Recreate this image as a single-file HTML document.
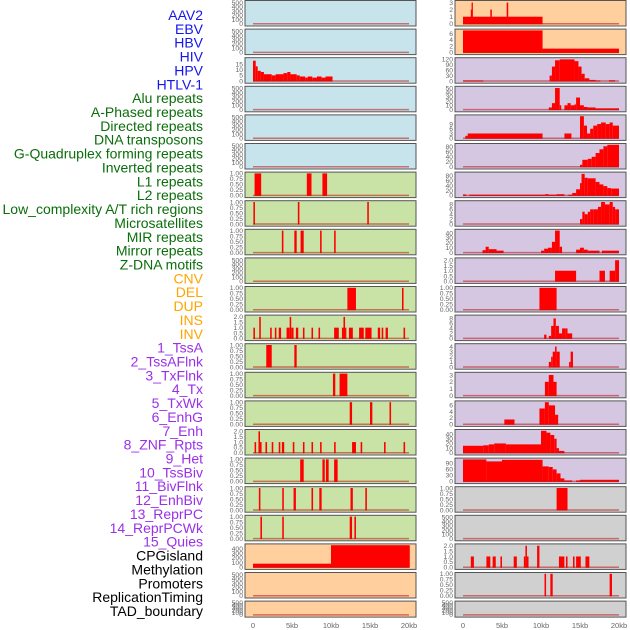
<!DOCTYPE html>
<html><head><meta charset="utf-8"><style>
body{margin:0;background:#fff;width:630px;height:630px;overflow:hidden}
svg{display:block}
</style></head><body>
<svg id="chart" width="630" height="630" xmlns="http://www.w3.org/2000/svg" font-family="Liberation Sans, sans-serif"></svg>
<script>
const labels=["AAV2","EBV","HBV","HIV","HPV","HTLV-1","Alu repeats","A-Phased repeats","Directed repeats","DNA transposons","G-Quadruplex forming repeats","Inverted repeats","L1 repeats","L2 repeats","Low_complexity A/T rich regions","Microsatellites","MIR repeats","Mirror repeats","Z-DNA motifs","CNV","DEL","DUP","INS","INV","1_TssA","2_TssAFlnk","3_TxFlnk","4_Tx","5_TxWk","6_EnhG","7_Enh","8_ZNF_Rpts","9_Het","10_TssBiv","11_BivFlnk","12_EnhBiv","13_ReprPC","14_ReprPCWk","15_Quies","CPGisland","Methylation","Promoters","ReplicationTiming","TAD_boundary"];
const labelGroups=[6,13,5,15,5];
const groupColors=["#1515ee","#0a6e0a","#ffa500","#9a30e8","#000"];
const xTicks=[0,5,10,15,20];
const xTickLabels=["0","5kb","10kb","15kb","20kb"];
const T500=[0,100,200,300,400,500];
const T1=[0,0.25,0.5,0.75,1];
const T2=[0,0.5,1,1.5,2];
// left column series [startKb,endKb,value]
const L3=[[0,0.35,18],[0.35,0.6,13],[0.6,1,9],[1,1.4,8],[1.4,2.4,6],[2.4,2.9,5],[2.9,3.4,6],[3.4,3.9,6],[3.9,4.4,7],[4.4,4.8,8],[4.8,5.6,6],[5.6,6.0,5],[6.0,6.7,4],[6.7,7.0,3],[7.0,7.6,4],[7.6,8.2,3],[8.2,8.8,4],[8.8,9.3,3],[9.3,10.2,4]];
const L7=[[0.2,1.05,1],[6.9,7.5,1],[8.9,9.5,1]];
const L8=[[0.05,0.25,1],[5.75,5.95,1],[14.65,14.85,1]];
const L9=[[3.7,3.9,1],[5.3,5.6,1],[6.1,6.5,1],[8.6,8.8,1],[10.4,10.6,1]];
const L11=[[12.1,13.2,1],[19.1,19.3,1]];
const L12=[[0.05,0.25,1],[0.8,1.0,2],[2.2,2.4,1],[2.8,3.0,1],[3.3,3.6,1],[4.3,4.7,1],[4.7,4.9,2],[4.9,5.2,1],[5.5,5.8,1],[6.4,6.6,1],[7.5,7.7,1],[8.4,8.6,1],[10.4,11.0,1],[11.4,11.6,1],[11.6,11.8,2],[11.8,11.9,1],[12.3,12.8,1],[13.6,14.2,1],[14.4,15.2,1],[16.0,16.3,1],[16.5,16.7,1],[17.0,17.3,1],[19.3,19.5,1]];
const L13=[[1.7,2.4,1],[5.3,5.6,1]];
const L14=[[10.25,10.55,1],[11.1,12.1,1]];
const L15=[[12.4,12.7,1],[15.0,15.3,1],[17.5,17.7,1]];
const L16=[[0.2,0.4,1],[0.7,0.9,2],[0.9,1.1,1],[1.6,1.8,1],[2.4,2.6,1],[3.3,3.5,1],[3.7,4.0,1],[5.1,5.3,1],[6.4,6.6,1],[7.5,7.7,1],[8.6,8.8,1],[10.4,10.6,1],[12.7,13.2,1],[13.8,14.0,1],[16.8,17.0,1],[19.3,19.5,1]];
const L17=[[6.05,6.5,1],[8.9,9.2,1],[9.35,9.7,1],[10.4,10.85,1]];
const L18=[[0.75,0.95,1],[3.75,3.95,1],[5.2,5.5,1],[7.5,7.7,1],[8.5,8.8,1],[12.5,12.8,1],[14.4,14.6,1]];
const L19=[[0.95,1.15,1],[3.75,3.95,1],[12.4,12.7,1],[13.0,13.2,1]];
const L20=[[0,10,75],[10,20.1,470]];
// right column series
const R1=[[0,10.2,1],[1.0,1.2,2],[1.1,1.2,3],[3.5,3.7,2],[5.6,5.8,3]];
const R2=[[0,10.2,7],[10.2,20,1.2]];
const R3=[[0,2.6,3],[11.1,11.4,30],[11.4,11.8,80],[11.8,12.4,115],[12.4,14.3,120],[14.3,14.8,110],[14.8,15.2,80],[15.2,15.6,40],[15.6,16.2,15],[16.2,17,6],[17,17.6,3],[18.7,19.5,4]];
const R4=[[11,11.4,5],[11.4,11.8,15],[11.8,12.4,50],[12.4,12.6,10],[13,13.4,10],[13.4,13.8,15],[13.8,14.3,10],[14.3,14.5,12],[14.5,15,28],[15,15.5,10],[15.5,16,6],[16,17,5],[17,20,3]];
const R5=[[0.3,0.6,1.5],[0.6,10.2,3],[13,13.9,3],[15,15.5,14],[15.5,15.9,8],[15.9,16.3,3],[16.3,16.7,6],[16.7,17.2,8],[17.2,17.7,9],[17.7,18.3,10],[18.3,18.8,9],[18.8,19.2,10],[19.2,20,8]];
const R6=[[15,15.3,8],[15.3,16,28],[16,16.5,32],[16.5,17,40],[17,17.5,55],[17.5,18,70],[18,18.5,82],[18.5,20,88]];
const R7=[[0,0.4,4],[0.8,10.5,3],[10.5,11,5],[11,12,3],[12,13,5],[13.5,14,3],[14,14.5,10],[14.5,15,25],[15,15.2,50],[15.2,15.6,88],[15.6,16,72],[16,17,70],[17,17.5,55],[17.5,18,45],[18,18.5,38],[18.5,19,30],[19,20,28]];
const R8=[[15,15.3,2],[15.3,15.6,5],[15.6,16,4],[16,16.3,5],[16.3,16.7,6],[16.7,17.3,6],[17.3,17.7,7],[17.7,18.2,9],[18.2,18.8,8],[18.8,19.2,9],[19.2,19.5,7],[19.5,20,6]];
const R9=[[2.5,2.9,5],[2.9,3.3,12],[3.3,4.3,7],[4.3,5.2,4],[10,10.4,4],[10.4,10.9,8],[10.9,11.4,10],[11.4,11.8,22],[11.8,12.4,45],[12.4,12.7,12],[14.5,15,6],[15,15.5,10],[15.5,16,6],[16,17.5,4],[17.8,20,4]];
const R10=[[11.8,14.5,1],[17.5,18.2,1],[18.8,19.5,1],[19.5,20,2]];
const R11=[[9.8,12,1]];
const R12=[[10.4,10.7,1.5],[11.0,11.3,1],[11.3,11.6,5],[11.6,11.9,8],[11.9,12.3,5],[12.3,12.7,2],[12.7,13.1,4],[13.1,13.4,4],[13.4,14,2]];
const R13=[[11,11.3,1],[11.3,11.5,2],[11.5,11.8,3],[11.8,12,4],[12,12.4,3],[13.6,13.8,1],[13.8,14.1,3]];
const R14=[[10.5,11,2],[11,11.6,3],[11.6,12,2]];
const R15=[[5.3,6.6,1.5],[9.8,10.5,5],[10.5,11,7],[11,11.8,6],[11.8,12.2,3]];
const R16=[[0,2.6,15],[2.6,3.3,16],[3.3,4,18],[4,5.5,20],[5.5,10,18],[10,10.7,47],[10.7,11.2,43],[11.2,11.7,38],[11.7,12,30],[12,12.3,10],[12.3,13,4]];
const R17=[[0,3,110],[3,5,100],[5,10.2,108],[10.2,11,75],[11,11.5,72],[11.5,12,60],[12,12.5,40],[12.5,13,15],[13,14,5],[14.5,15,5],[15,20,8]];
const R18=[[12,13.4,1]];
const R20=[[1,1.4,1],[3,3.5,1],[3.8,4.2,1],[4.8,5.0,1],[6.5,6.9,1],[7.8,8.0,1],[8.0,8.2,2],[8.2,8.4,1],[9.5,9.8,2],[12.3,13.0,1],[13.2,13.4,1],[14.1,14.3,1],[14.5,15.1,1],[15.7,16.2,1]];
const R21=[[10.45,10.65,1],[11.2,11.5,1],[18.8,19.1,1]];
const BLUE="#c7e4ec",GREEN="#c9e2a5",ORANGE="#ffd09e",PURPLE="#d5c6e2",GRAY="#d0d0d0";
const leftPanels=[
 [BLUE,T500,520,[]],[BLUE,T500,520,[]],[BLUE,[0,5,10,15],19.5,L3],[BLUE,T500,520,[]],[BLUE,T500,520,[]],[BLUE,T500,520,[]],
 [GREEN,T1,1,L7],[GREEN,T1,1,L8],[GREEN,T1,1,L9],[GREEN,T500,520,[]],[GREEN,T1,1,L11],[GREEN,T2,2.05,L12],[GREEN,T1,1,L13],[GREEN,T1,1,L14],[GREEN,T1,1,L15],[GREEN,T2,2.05,L16],[GREEN,T1,1,L17],[GREEN,T1,1,L18],[GREEN,T1,1,L19],
 [ORANGE,[0,100,200,300,400],470,L20],[ORANGE,T500,520,[]],[ORANGE,T500,520,[]]];
const rightPanels=[
 [ORANGE,[0,1,2,3],3.1,R1],[ORANGE,[0,2,4,6],7,R2],[PURPLE,[0,30,60,90,120],122,R3],[PURPLE,[0,10,20,30,40,50],51,R4],[PURPLE,[0,3,6,9],14,R5],[PURPLE,[0,20,40,60,80],88,R6],[PURPLE,[0,20,40,60,80],90,R7],[PURPLE,[0,2,4,6,8],9,R8],[PURPLE,[0,10,20,30,40],45,R9],[PURPLE,T2,2.1,R10],[PURPLE,T1,1,R11],[PURPLE,[0,2,4,6,8],8.8,R12],[PURPLE,[0,1,2,3,4],4.3,R13],[PURPLE,[0,1,2,3],3.2,R14],[PURPLE,[0,2,4,6],7,R15],[PURPLE,[0,10,20,30,40],47,R16],[PURPLE,[0,30,60,90],110,R17],
 [GRAY,T1,1,R18],[GRAY,T500,520,[]],[GRAY,T2,2.05,R20],[GRAY,T1,1,R21],[GRAY,T500,520,[]]];
const svg=document.getElementById('chart');
const NS="http://www.w3.org/2000/svg";
function mk(tag,attrs,parent){const e=document.createElementNS(NS,tag);for(const k in attrs)e.setAttribute(k,attrs[k]);(parent||svg).appendChild(e);return e;}
let li=0;
labelGroups.forEach((n,g)=>{for(let i=0;i<n;i++){const t=mk('text',{x:203,y:15+li*13.86+5,'text-anchor':'end','font-size':'14',fill:groupColors[g]});t.textContent=labels[li];


li++;}});
function fmt(v,ticks){const dec=ticks.some(t=>t%1!==0);if(!dec)return String(v);const d=ticks.some(t=>Math.round(t*100)%50!==0)?2:1;return v.toFixed(d);}
function drawCol(panels,px,x0,x1,side){
 const kb=v=>x0+(x1-x0)*v/20;
 panels.forEach((p,i)=>{
  const top=i*28.6+0.5,h=(i===21)?16:25.5,bot=top+h;
  const g=mk('g',{});
  
  
  mk('rect',{x:px,y:top,width:171,height:h,fill:p[0],stroke:'#555','stroke-width':1},g);
  const y0=bot-2.2,ys=v=>y0-v/p[2]*(h-3.5);
  p[1].forEach(t=>{const tx=mk('text',{x:px-2,y:ys(t)+2.3,'text-anchor':'end','font-size':'6.8',fill:'#666'},g);tx.textContent=fmt(t,p[1]);});
  p[3].forEach(s=>{const w=Math.max(kb(s[1])-kb(s[0]),1.3);const r=mk('rect',{x:kb(s[0]),y:ys(s[2]),width:w,height:y0-ys(s[2])+0.5,fill:'#ff0000'},g);
   
   });
  mk('line',{x1:kb(0),x2:kb(20),y1:y0,y2:y0,stroke:'rgba(190,20,20,0.55)','stroke-width':1.5},g);
 });
 xTicks.forEach((t,k)=>{const tx=mk('text',{x:kb(t),y:628,'text-anchor':'middle','font-size':'7.5',fill:'#666'});tx.textContent=xTickLabels[k];
  
  });
}
drawCol(leftPanels,245,253,409,'left');
drawCol(rightPanels,455,463,619,'right');
</script>
</body></html>
